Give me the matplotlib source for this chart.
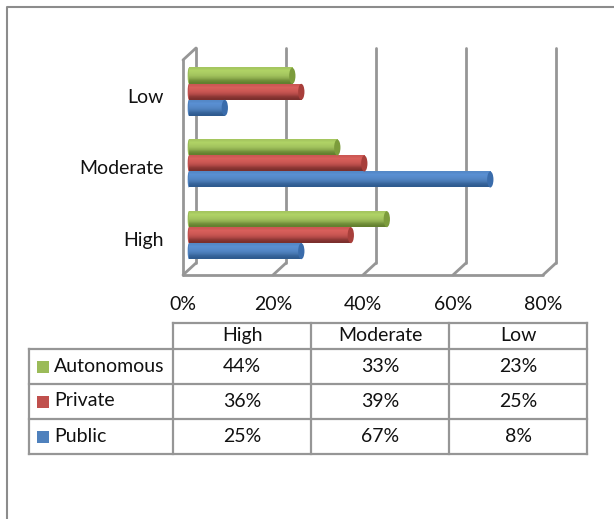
"""Bar chart of autonomy level by institution type, with a data table below."""

import matplotlib

matplotlib.use("Agg")

import matplotlib.pyplot as plt
import numpy as np
from matplotlib.patches import Ellipse, Rectangle
from matplotlib.transforms import ScaledTranslation

plt.rcParams["font.family"] = ["Lato", "DejaVu Sans"]

levels = ["High", "Moderate", "Low"]
series_names = ["Public", "Private", "Autonomous"]
public = [25, 67, 8]
private = [36, 39, 25]
autonomous = [44, 33, 23]
x_ticks = [0, 20, 40, 60, 80]

W, H = 614, 519
GRID = "#969696"
TEXT = "#111111"
FONT = 14
COLORS = {
    "Public": ("#2f5b8f", "#5a90d3", "#3a6cab", "#4f81bd"),
    "Private": ("#7b2f2d", "#d9605c", "#a83f3b", "#c0504d"),
    "Autonomous": ("#63802f", "#b0d366", "#7c9c3c", "#9bbb59"),
}


def px_axes(fig, left, top, right, bottom):
    return fig.add_axes([left / W, 1 - bottom / H, (right - left) / W, (bottom - top) / H])


def draw_bar(ax, y, value, height, colors, trans):
    dark, light, end_color, _ = colors
    ramp = matplotlib.colors.LinearSegmentedColormap.from_list("bar", [light, colors[3], dark])
    shade = np.array([0.25, 0.0, 0.15, 0.35, 0.6, 0.85, 1.0]).reshape(-1, 1)
    im = ax.imshow(shade, cmap=ramp, vmin=0, vmax=1, aspect="auto", origin="upper",
                   extent=(0, value, y - height / 2, y + height / 2),
                   transform=trans, interpolation="bilinear", zorder=3)
    im.set_clip_on(False)
    ax.add_patch(Ellipse((0, y), 0.5, height, facecolor=colors[3], edgecolor="none",
                         transform=trans, zorder=2.9, clip_on=False))
    ax.add_patch(Ellipse((value, y), 1.4, height, facecolor=end_color, edgecolor="none",
                         transform=trans, zorder=3.1, clip_on=False))


fig = plt.figure(figsize=(W / 100, H / 100), dpi=100, facecolor="white")

# outer chart border (right and bottom are cropped away)
frame = fig.add_axes([0, 0, 1, 1], zorder=0)
frame.set_xlim(0, W)
frame.set_ylim(H, 0)
frame.axis("off")
frame.plot([7, 7, W], [H, 6.5, 6.5], color="#8c8c8c", lw=1.5)

# front plane of the 3D plot: 0% at x=183, 80% at x=543
ax = px_axes(fig, 183, 60, 543, 275)
ax.set_xlim(0, 80)
ax.set_ylim(-0.5, 2.5)
ax.patch.set_alpha(0)
for side in ax.spines.values():
    side.set_visible(False)

back = ax.transData + ScaledTranslation(13 / 100, 12 / 100, fig.dpi_scale_trans)
bars = ax.transData + ScaledTranslation(5.8 / 100, 4 / 100, fig.dpi_scale_trans)
wall_style = dict(color=GRID, lw=2.0, solid_capstyle="round", clip_on=False, zorder=1)

for tick in x_ticks:
    ax.plot([tick, tick], [-0.5, 2.5], transform=back, **wall_style)
    ax.plot([tick, tick + 13 * 80 / 360], [-0.5, -0.5 + 12 * 3 / 215], **wall_style)
ax.plot([0, 80], [-0.5, -0.5], **wall_style)
ax.plot([0, 0], [-0.5, 2.5], **wall_style)
ax.plot([0, 13 * 80 / 360], [2.5, 2.5 + 12 * 3 / 215], **wall_style)

bar_h = 16 * 3 / 215
by_series = {"Public": public, "Private": private, "Autonomous": autonomous}
for i, name in enumerate(series_names):
    for pos, value in enumerate(by_series[name]):
        draw_bar(ax, pos + (i - 1) * bar_h, value, bar_h, COLORS[name], bars)
ax.set_xlim(0, 80)
ax.set_ylim(-0.5, 2.5)

ax.set_xticks(x_ticks, [f"{t}%" for t in x_ticks])
ax.set_yticks(range(len(levels)), levels)
ax.tick_params(axis="both", length=0, labelsize=FONT, labelcolor=TEXT)
ax.tick_params(axis="x", pad=15)
ax.tick_params(axis="y", pad=14)

# data table under the plot
tbl = fig.add_axes([0, 0, 1, 1], zorder=2)
tbl.set_xlim(0, W)
tbl.set_ylim(H, 0)
tbl.axis("off")
col_edges = [29, 173, 311, 449, 587]
row_edges = [323, 349, 384, 419, 454]
line = dict(color=GRID, lw=1.6, solid_capstyle="projecting")

tbl.plot([173, 587], [row_edges[0]] * 2, **line)
for y in row_edges[1:]:
    tbl.plot([col_edges[0], col_edges[-1]], [y, y], **line)
tbl.plot([col_edges[0]] * 2, [row_edges[1], row_edges[-1]], **line)
for x in col_edges[1:]:
    tbl.plot([x, x], [row_edges[0], row_edges[-1]], **line)

centers = [(a + b) / 2 for a, b in zip(col_edges[1:], col_edges[2:])]
for c, level in zip(centers, levels):
    tbl.text(c, 335.5, level, ha="center", va="center", fontsize=FONT, color=TEXT)

for r, name in enumerate(reversed(series_names)):
    mid = (row_edges[r + 1] + row_edges[r + 2]) / 2
    tbl.add_patch(Rectangle((37, mid - 6), 12, 12, facecolor=COLORS[name][3], edgecolor="none"))
    tbl.text(54, mid - 0.5, name, ha="left", va="center", fontsize=FONT, color=TEXT)
    for c, value in zip(centers, by_series[name]):
        tbl.text(c, mid, f"{value}%", ha="center", va="center", fontsize=FONT, color=TEXT)

fig.savefig("out.png", dpi=100)
